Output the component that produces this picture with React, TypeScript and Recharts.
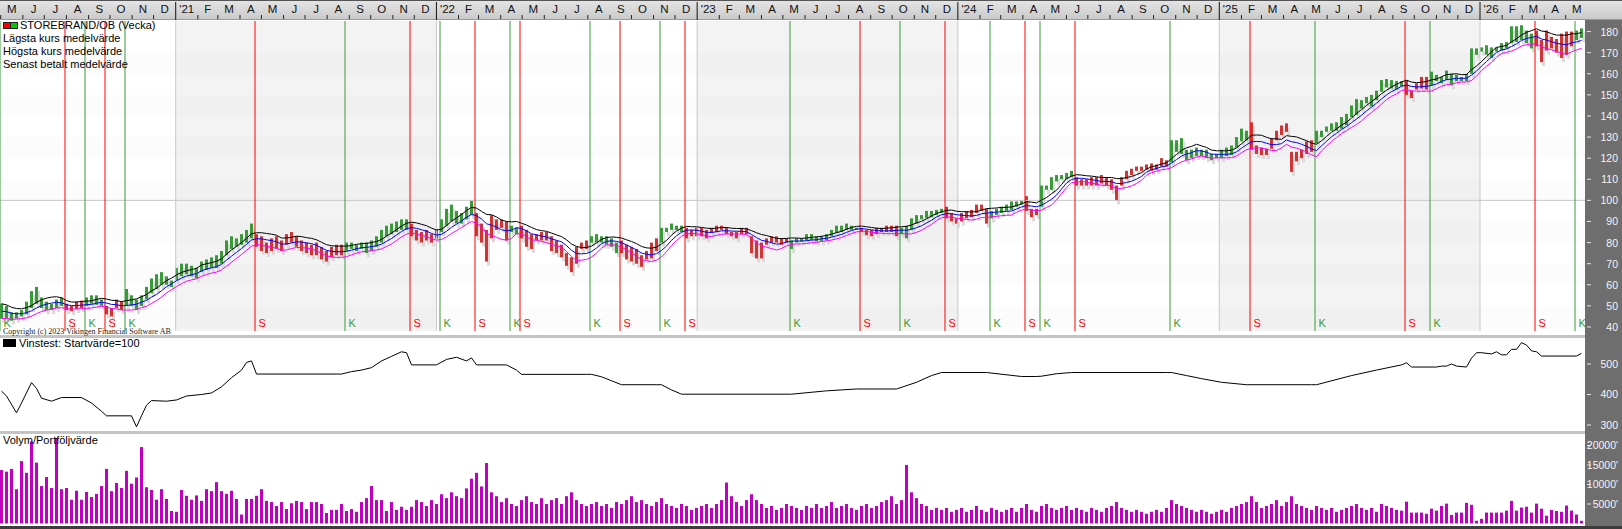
import React from 'react'
import { ComposedChart, Bar, Line, XAxis, YAxis, ReferenceLine, ReferenceArea } from 'recharts'

// weekly bars, week 0 = 2020-04-30
const HIGH = [
  51, 50, 47, 47, 48, 52, 57, 59, 54, 52,
  51, 53, 54, 51, 50, 52, 52.5, 54, 55, 55,
  53, 50, 49, 53, 52, 58, 55, 53, 55, 59,
  63, 65, 66, 64, 62, 68, 70, 70, 69, 68,
  71, 72, 73, 74, 76, 81, 83, 82, 84, 86,
  89, 84, 83, 80, 82, 83, 81, 84, 85, 83,
  81, 80, 79, 80, 78, 76, 78, 79, 79, 80,
  80, 79, 80, 80, 81, 83, 86, 88, 89, 90,
  91, 91, 89, 86, 85, 86, 84, 86, 91, 96,
  98, 95, 94, 97, 100, 94, 89, 86, 93, 91,
  91, 90, 88, 87, 88, 86, 84, 84, 85, 85,
  83, 81, 79, 75, 73, 78, 80, 81, 83, 84,
  83, 83, 82, 80, 81, 79, 78, 77, 74, 76,
  80, 82, 87, 87, 89, 88, 88, 87, 86, 87,
  87, 86, 87, 88, 88, 87, 85, 85, 87, 87,
  83, 81, 80, 82, 83, 83, 82, 82, 81, 82,
  82, 84, 84, 83, 83, 84, 86, 88, 88, 89,
  88, 87, 87, 86, 86, 87, 87, 88, 88, 88,
  87, 88, 91.5, 93, 93, 95, 95, 95.5, 96, 97,
  94, 91.5, 94, 95, 95.5, 98, 98, 96, 95, 96,
  97, 98, 99.5, 99.5, 100, 102, 96, 96, 107, 107,
  111, 112, 112, 113, 114, 111, 110, 110, 111, 111,
  112, 111, 110, 107, 111, 114, 115, 116, 116, 117,
  117.5, 117, 120, 119, 128.5, 128.5, 129.5, 124, 124, 125,
  124, 124, 122, 122, 124, 125, 126, 130, 134, 133,
  137, 126, 125, 124.5, 129.5, 133, 135.5, 136.5, 123, 123,
  124, 128, 128.5, 133, 133, 135, 136.5, 137, 139.5, 141,
  145, 148, 147.5, 149, 150, 152, 157, 157.5, 157, 156.5,
  156.5, 157, 152, 155.5, 158.5, 158.5, 161, 159.5, 158.5, 161.5,
  160, 159.5, 158.5, 160, 172, 172, 172.5, 173.5, 172.5, 172.5,
  174.5, 175, 182.5, 182.5, 183, 180.5, 179, 180.5, 176, 180.5,
  177.5, 176.5, 179, 180, 180, 180.5, 181.5,
]
const LOW = [
  44, 44, 43, 44, 45, 46, 49, 51, 49, 48,
  48, 49, 50, 48, 47.5, 48.5, 49, 50, 51, 50.5,
  50, 46, 45, 49, 48, 50, 50, 48, 50, 53,
  56, 58, 60, 60, 59, 62, 64, 65, 64, 63,
  66, 67, 68, 68, 70, 74, 77, 78, 79, 80,
  82, 78, 76, 75, 76, 77, 76, 79, 80, 78,
  76, 75, 74, 74, 72, 71, 73, 74, 74, 76,
  77, 76, 77, 75, 76, 78, 80, 83, 84, 85,
  86, 86, 83, 81, 80, 81, 80, 82, 85, 88,
  90, 89, 89, 91, 93, 83, 80, 71, 82, 86,
  87, 81, 85, 84, 82, 78, 77, 81, 81, 81,
  76, 75, 73, 69, 66, 70, 77, 77, 80, 80,
  80, 79, 78, 75, 75, 72, 71, 70, 68.5, 72,
  72.5, 76, 80, 85, 86, 86, 85, 82, 83, 83,
  83, 82, 84.5, 85, 86, 84, 83, 82, 84, 84,
  75, 72.5, 72.5, 79, 80, 80, 79, 80, 77, 80,
  80.5, 81, 81, 80.5, 80.5, 81, 83, 84.5, 85, 86,
  86, 86, 85, 83.5, 83, 84, 85, 85, 85, 83,
  84, 82, 86, 89, 91, 91.5, 92, 93, 94, 91.5,
  90, 89, 90, 91.5, 92, 94, 95, 89, 91.5, 93,
  94, 95, 95.5, 97, 98, 95, 92, 93, 97, 105,
  105, 109, 110, 110, 111, 107, 107, 107, 107, 107,
  108, 107, 105, 100, 107, 110, 112, 114, 114, 114.5,
  114, 114.5, 116, 116, 118, 123, 122, 119, 120, 121,
  121, 120, 119, 120, 120, 121, 121.5, 125, 128, 128.5,
  124, 122, 121.5, 121.5, 124.5, 128.5, 131, 132.5, 113.5, 118.5,
  120, 122, 123, 127, 130, 132.5, 133, 133, 134, 135.5,
  139.5, 140.5, 143.5, 146, 144.5, 147.5, 151.5, 153.5, 153, 152.5,
  154, 150, 148.5, 152.5, 153, 152.5, 154.5, 156.5, 155.5, 157,
  154.5, 156.5, 156.5, 156.5, 160, 169, 170.5, 169, 167.5, 170.5,
  171, 172, 174.5, 175, 176, 174.5, 172, 173, 165.5, 171,
  172, 170, 167.5, 169, 173, 176, 177,
]
// volume in thousands of the axis unit (20 = 20000')
const VOLUME = [
  13.7, 13.3, 14, 8.8, 16, 13, 21, 15.6, 9.6, 11.9,
  9.1, 21.9, 8.8, 9.1, 6.1, 8.4, 6.1, 8.1, 6.8, 7.6,
  9.6, 14, 8.3, 10.4, 9.1, 13.5, 10.2, 11.8, 19.6, 9.3,
  8.6, 6.1, 8.8, 6.3, 3.2, 3.0, 8.6, 7.1, 6.1, 7.2,
  5.8, 8.8, 8.3, 10.6, 8.3, 7.6, 8.4, 6.3, 2.3, 6.3,
  6.3, 7.1, 8.8, 5.8, 5.5, 4.5, 5.5, 3.7, 5.2, 5.8,
  5.5, 3.7, 5.5, 5.5, 5.0, 2.7, 3.5, 3.5, 5.0, 3.2,
  3.7, 3.0, 5.5, 6.5, 9.6, 6.0, 6.0, 3.2, 5.5, 3.5,
  4.3, 3.5, 4.3, 6.0, 5.5, 4.5, 6, 5, 7.5, 6.5,
  8, 7, 6.5, 9, 11.5, 13, 9.5, 15.5, 8, 7,
  5.5, 6.5, 5, 4.5, 6, 7, 5.5, 5, 6.5, 5,
  6, 6.5, 5, 7, 8, 6, 5, 4.5, 5, 5.5,
  4.5, 5, 4, 5.5, 5, 6, 7, 5.5, 6, 5,
  4.5, 5.5, 6.5, 5, 4.5, 4, 5, 4.5, 3.5, 4,
  4.5, 5, 4, 5, 6, 10.5, 7, 5.5, 4.5, 6,
  7.5, 6, 5, 4, 4.5, 3.5, 4, 5, 4.5, 4,
  3.5, 4.5, 4, 5, 4, 4.5, 5.5, 4, 4.5, 5,
  4, 3.5, 4.5, 5, 4, 4.5, 5.5, 6, 7, 5,
  6, 15, 8, 6.5, 5, 4.5, 3.5, 4, 3.5, 4,
  3, 3.5, 4, 3, 3.5, 4.5, 3.5, 3, 4, 3.5,
  3, 3.5, 4, 3, 4, 5, 3.5, 3, 4.5, 5,
  4, 3.5, 4, 4.5, 3.5, 4, 3.5, 3, 4, 3.5,
  3, 4, 4.5, 5.5, 4, 3.5, 3, 3.5, 3, 2.5,
  3, 3.5, 3, 4, 6, 5, 4.5, 4, 3.5, 3,
  3.5, 3, 2.5, 3, 3.5, 3, 4, 4.5, 5, 5.5,
  7, 5.5, 4, 4.5, 5, 6, 4.5, 5.5, 7, 5,
  4.5, 4, 3.5, 4.5, 4, 3.5, 4, 3, 3.5, 4,
  4.5, 5, 4, 3.5, 4, 3, 5, 4.5, 4, 3.5,
  3.3, 5.6, 2.8, 2.8, 2.8, 2.5, 3.8, 3.3, 4.5, 5.1,
  2.2, 2.8, 2.8, 5.3, 4.8, 0.7, 1.2, 2.8, 2.8, 2.8,
  2.8, 3.3, 5.8, 3.3, 4.1, 4.3, 2.8, 5.1, 3.8, 2,
  3.5, 3.2, 3.0, 4.6, 3.3, 2.3, 0.7,
]

// buy (K) / sell (S) signals, by week
const SIGNAL_WEEKS = [0, 13, 17, 21, 25, 51, 69, 82, 88, 95, 102, 104, 118, 124, 132, 137, 158, 172, 180, 189, 198, 205, 208, 215, 234, 250, 263, 281, 286, 307, 315]
const SIGNAL_TYPES = ['K', 'S', 'K', 'S', 'K', 'S', 'K', 'S', 'K', 'S', 'K', 'S', 'K', 'S', 'K', 'S', 'K', 'S', 'K', 'S', 'K', 'S', 'K', 'S', 'K', 'S', 'K', 'S', 'K', 'S', 'K']

// Vinstest line, vertices
const VIN_WEEKS = [0, 1, 3, 4, 6, 7, 8, 10, 12, 16, 18, 20, 21, 26, 27, 28, 29, 30, 33, 35, 37, 40, 42, 44, 46, 48, 49, 50, 51, 68, 70, 72, 74, 76, 78, 80, 81, 82, 87, 89, 91, 93, 94, 95, 101, 103, 104, 117, 118, 120, 122, 124, 131, 132, 134, 136, 158, 165, 171, 179, 183, 186, 188, 197, 204, 207, 208, 211, 214, 233, 234, 237, 240, 244, 249, 262, 263, 270, 275, 280, 281, 282, 287, 288, 289, 290, 291, 293, 294, 295, 296, 298, 299, 300, 301, 302, 303, 304, 305, 306, 307, 308, 315, 316]
const VIN_VALUES = [411, 395, 340, 372, 439, 420, 388, 378, 390, 390, 372, 345, 330, 330, 294, 330, 365, 380, 378, 382, 395, 400, 405, 425, 455, 480, 505, 510, 467, 467, 475, 480, 488, 510, 525, 540, 537, 497, 497, 515, 522, 510, 520, 497, 497, 480, 466, 466, 466, 458, 445, 432, 432, 432, 415, 401, 401, 412, 418, 418, 440, 462, 472, 472, 459, 459, 460, 468, 472, 472, 472, 462, 452, 440, 432, 432, 432, 462, 480, 497, 504, 490, 490, 493, 493, 500, 493, 490, 519, 537, 537, 533, 540, 530, 530, 548, 548, 570, 562, 543, 540, 526, 526, 535]

const PRICE_TICKS = [40, 50, 60, 70, 80, 90, 100, 110, 120, 130, 140, 150, 160, 170, 180]
const PRICE_BANDS = [40, 60, 80, 100, 120, 140, 160, 180]
const VIN_TICKS = [300, 400, 500]
const VOL_TICKS = [5, 10, 15, 20]
const MONTH_NAMES = ['J', 'F', 'M', 'A', 'M', 'J', 'J', 'A', 'S', 'O', 'N', 'D']

const START = Date.UTC(2020, 3, 30)
const DAY = 86400000
const DOMAIN: [number, number] = [0, 2219]
const PLOT_W = 1585
const PX_PER_DAY = PLOT_W / DOMAIN[1]
const MA_LEN = 6

const dayOf = (y: number, m: number) => Math.round((Date.UTC(y, m, 1) - START) / DAY)
const weekDay = (i: number) => 7 * i + 2.1

const MONTHS: { day: number; label: string; half: number; jan: boolean }[] = []
for (let y = 2020; y <= 2026; y++) {
  for (let m = 0; m < 12; m++) {
    const d = dayOf(y, m)
    if (d < 0 || d > DOMAIN[1]) continue
    const len = dayOf(y, m + 1) - d
    MONTHS.push({ day: d, label: m === 0 ? `'${String(y).slice(2)}` : MONTH_NAMES[m], half: (len * PX_PER_DAY) / 2, jan: m === 0 })
  }
}
const YEAR_DAYS = [2021, 2022, 2023, 2024, 2025, 2026].map((y) => dayOf(y, 0))

const ma = (arr: number[], i: number) => {
  const from = Math.max(0, i - MA_LEN + 1)
  let s = 0
  for (let k = from; k <= i; k++) s += arr[k]
  return s / (i - from + 1)
}
const MID = HIGH.map((h, i) => (h + LOW[i]) / 2)

const stateAt = (i: number) => {
  let s = 'K'
  SIGNAL_WEEKS.forEach((w, k) => {
    if (w <= i) s = SIGNAL_TYPES[k]
  })
  return s
}

const priceData = HIGH.map((h, i) => ({
  d: weekDay(i),
  range: [LOW[i], h],
  maH: ma(HIGH, i),
  maM: ma(MID, i),
  maL: ma(LOW, i),
  color: stateAt(i) === 'K' ? '#3a9a3a' : '#d03434',
}))
const volData = VOLUME.map((v, i) => ({ d: weekDay(i), v }))
const vinData = VIN_WEEKS.map((w, i) => ({ d: weekDay(w), v: VIN_VALUES[i] }))

const FONT = '"Liberation Sans", Arial, sans-serif'

const PriceBar = (props: any) => {
  const { x, y, width, height, payload } = props
  if (x == null || y == null) return null
  const h = Math.max(height, 1)
  return (
    <g>
      <rect x={x + 2} y={y + 4} width={width} height={h} fill="#dadada" />
      <rect x={x} y={y} width={width} height={h} fill={payload.color} />
    </g>
  )
}

const MonthTick = (props: any) => {
  const { x, payload } = props
  const m = MONTHS.find((mm) => mm.day === payload.value)
  if (!m) return null
  return (
    <g>
      {m.jan ? (
        <line x1={x} x2={x} y1={2} y2={20} stroke="#111" />
      ) : (
        <line x1={x} x2={x} y1={15} y2={19} stroke="#222" />
      )}
      <text x={x + m.half} y={13} textAnchor="middle" fontSize={11.5} fontFamily={FONT} fill="#111">
        {m.label}
      </text>
    </g>
  )
}

const RightTick = (props: any) => {
  const { y, payload, suffix } = props
  const label = suffix ? `${payload.value * 1000}'` : `${payload.value}`
  return (
    <g>
      <line x1={1587} x2={1591} y1={y} y2={y} stroke="#e6e6e6" />
      <text x={1618} y={y + 4} textAnchor="end" fontSize={10.5} fontFamily={FONT} fill="#f4f4f4">
        {label}
      </text>
    </g>
  )
}

const SignalLabel = (props: any) => {
  const { viewBox, kind } = props
  if (!viewBox) return null
  return (
    <text x={viewBox.x + 3.5} y={327} fontSize={11} fontFamily={FONT} fill={kind === 'K' ? '#3a9a3a' : '#ff0000'}>
      {kind}
    </text>
  )
}

function PricePanel() {
  return (
    <ComposedChart width={1622} height={331} data={priceData} margin={{ top: 0, right: 0, bottom: 0, left: 0 }}>
      <XAxis
        dataKey="d"
        type="number"
        orientation="top"
        height={21}
        domain={DOMAIN}
        ticks={MONTHS.map((m) => m.day)}
        interval={0}
        tick={(p: any) => <MonthTick {...p} />}
        axisLine={false}
        tickLine={false}
        allowDataOverflow
      />
      <YAxis
        orientation="right"
        width={37}
        domain={[38.1, 185]}
        ticks={PRICE_TICKS}
        interval={0}
        tick={(p: any) => <RightTick {...p} />}
        axisLine={false}
        tickLine={false}
        allowDataOverflow
      />
      {[2021, 2023, 2025].map((y) => (
        <ReferenceArea key={y} x1={dayOf(y, 0)} x2={dayOf(y + 1, 0)} fill="#f3f3f3" fillOpacity={1} stroke="none" />
      ))}
      {PRICE_BANDS.map((b) => (
        <ReferenceArea key={`b${b}`} y1={b} y2={b + 10} fill="#000" fillOpacity={0.012} stroke="none" />
      ))}
      {YEAR_DAYS.map((d) => (
        <ReferenceLine key={d} x={d} stroke="#c8c8c8" />
      ))}
      <ReferenceLine y={100} stroke="#c8c8c8" />
      {SIGNAL_WEEKS.map((w, k) => (
        <ReferenceLine
          key={`s${w}`}
          x={7 * w}
          stroke={SIGNAL_TYPES[k] === 'K' ? '#3a9a3a' : '#ff0000'}
          label={<SignalLabel kind={SIGNAL_TYPES[k]} />}
        />
      ))}
      <Bar dataKey="range" barSize={3} shape={(p: any) => <PriceBar {...p} />} isAnimationActive={false} />
      <Line dataKey="maL" stroke="#ff00ff" strokeWidth={1} dot={false} isAnimationActive={false} />
      <Line dataKey="maM" stroke="#0000ff" strokeWidth={1} dot={false} isAnimationActive={false} />
      <Line dataKey="maH" stroke="#000000" strokeWidth={1} dot={false} isAnimationActive={false} />
    </ComposedChart>
  )
}

function VinPanel() {
  return (
    <ComposedChart width={1622} height={93} data={vinData} margin={{ top: 0, right: 0, bottom: 0, left: 0 }}>
      <XAxis dataKey="d" type="number" domain={DOMAIN} hide allowDataOverflow />
      <YAxis
        orientation="right"
        width={37}
        domain={[280.3, 585.2]}
        ticks={VIN_TICKS}
        interval={0}
        tick={(p: any) => <RightTick {...p} />}
        axisLine={false}
        tickLine={false}
        allowDataOverflow
      />
      <Line dataKey="v" stroke="#000" strokeWidth={1} dot={false} isAnimationActive={false} />
    </ComposedChart>
  )
}

function VolPanel() {
  return (
    <ComposedChart width={1622} height={91} data={volData} margin={{ top: 0, right: 0, bottom: 0, left: 0 }}>
      <XAxis dataKey="d" type="number" domain={DOMAIN} hide allowDataOverflow />
      <YAxis
        orientation="right"
        width={37}
        domain={[-0.641, 22.69]}
        ticks={VOL_TICKS}
        interval={0}
        tick={(p: any) => <RightTick {...p} suffix />}
        axisLine={false}
        tickLine={false}
        allowDataOverflow
      />
      <Bar dataKey="v" barSize={3} fill="#c000c0" isAnimationActive={false} />
    </ComposedChart>
  )
}

const legendText: React.CSSProperties = { position: 'absolute', left: 3, fontSize: 11, fontFamily: FONT, color: '#000', whiteSpace: 'nowrap', lineHeight: '13px' }

export default function App() {
  return (
    <div style={{ position: 'relative', width: 1622, height: 529, background: '#fff', overflow: 'hidden', fontFamily: FONT }}>
      <style>{'body{margin:0}'}</style>
      <div style={{ position: 'absolute', left: 0, top: 0, width: 1622, height: 20, background: 'linear-gradient(#e4e4e4,#cacaca)', borderTop: '1px solid #555', borderBottom: '1px solid #9a9a9a', boxSizing: 'border-box' }} />
      <div style={{ position: 'absolute', left: 1585, top: 20, width: 37, height: 509, background: '#6e6e6e' }} />
      <div style={{ position: 'absolute', left: 0, top: 335, width: 1585, height: 3, background: '#c4c4c4' }} />
      <div style={{ position: 'absolute', left: 0, top: 431, width: 1585, height: 3, background: '#c4c4c4' }} />
      <div style={{ position: 'absolute', left: 0, top: 526, width: 1622, height: 3, background: '#3c3c3c' }} />

      <div style={{ position: 'absolute', left: 0, top: 0 }}>
        <PricePanel />
      </div>
      <div style={{ position: 'absolute', left: 0, top: 338 }}>
        <VinPanel />
      </div>
      <div style={{ position: 'absolute', left: 0, top: 435 }}>
        <VolPanel />
      </div>

      <div style={{ ...legendText, top: 19, left: 20 }}>STOREBRAND/OB (Vecka)</div>
      <div style={{ position: 'absolute', left: 3, top: 22, width: 6, height: 5, background: '#ff0000', border: '1px solid #222' }} />
      <div style={{ position: 'absolute', left: 10, top: 22, width: 6, height: 5, background: '#00cc00', border: '1px solid #222' }} />
      <div style={{ ...legendText, top: 32 }}>Lägsta kurs medelvärde</div>
      <div style={{ ...legendText, top: 45 }}>Högsta kurs medelvärde</div>
      <div style={{ ...legendText, top: 58 }}>Senast betalt medelvärde</div>

      <div style={{ position: 'absolute', left: 3, top: 327, fontSize: 8, lineHeight: '9px', fontFamily: '"Liberation Serif", serif', color: '#222', whiteSpace: 'nowrap' }}>
        Copyright (c) 2023 Vikingen Financial Software AB
      </div>

      <div style={{ position: 'absolute', left: 3, top: 339, width: 13, height: 8, background: '#000' }} />
      <div style={{ ...legendText, top: 337, left: 19 }}>Vinstest: Startvärde=100</div>
      <div style={{ ...legendText, top: 434 }}>Volym/Portföljvärde</div>
    </div>
  )
}
